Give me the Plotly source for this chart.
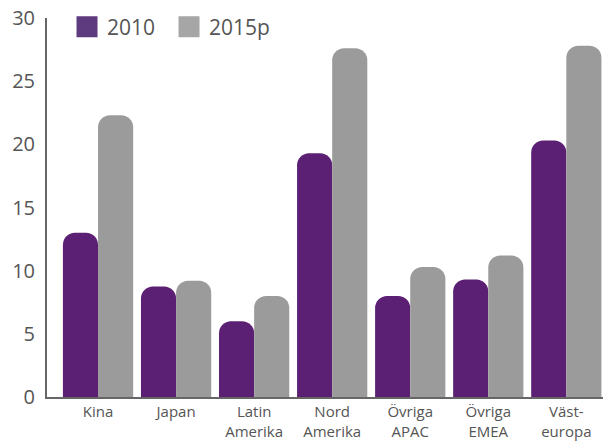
import plotly.graph_objects as go

categories = ["Kina", "Japan", "Latin<br>Amerika", "Nord<br>Amerika", "Övriga<br>APAC", "Övriga<br>EMEA", "Väst-<br>europa"]
values_2010 = [13.0, 8.75, 6.0, 19.3, 8.0, 9.3, 20.3]
values_2015p = [22.3, 9.2, 8.0, 27.6, 10.3, 11.2, 27.8]
series_names = ["2010", "2015p"]
colors = ["#5B1F73", "#9B9B9B"]
legend_colors = ["#5E3A7E", "#A6A6A6"]
y_ticks = [0, 5, 10, 15, 20, 25, 30]

fig = go.Figure()
for name, vals, col in zip(series_names, [values_2010, values_2015p], colors):
    fig.add_trace(go.Bar(x=categories, y=vals, name=name, marker=dict(color=col, line=dict(width=0)),
                         showlegend=False, hoverinfo="x+y"))
for name, col in zip(series_names, legend_colors):
    fig.add_trace(go.Scatter(x=[None], y=[None], mode="markers", name=name,
                             marker=dict(symbol="square", size=16, color=col,
                                         line=dict(color=col, width=5))))

font_family = "Open Sans, Noto Sans, sans-serif"
fig.update_layout(
    width=603, height=443,
    margin=dict(l=47, r=0, t=18, b=46),
    plot_bgcolor="white", paper_bgcolor="white",
    barmode="group", bargap=0.1, bargroupgap=0.0, barcornerradius=12,
    font=dict(family=font_family, color="#555555"),
    legend=dict(orientation="h", x=0.036, y=0.976, xanchor="left", yanchor="middle",
                font=dict(size=21, color="#555555"), bgcolor="rgba(0,0,0,0)",
                itemwidth=30, entrywidth=57, tracegroupgap=0, traceorder="normal"),
    xaxis=dict(type="category", range=[-0.654, 6.47], showgrid=False, showline=True,
               linecolor="#666666", linewidth=2, ticks="", tickfont=dict(size=15, color="#555555"),
               fixedrange=True),
    yaxis=dict(range=[0, 30], tickvals=y_ticks, showgrid=False, showline=True,
               linecolor="#666666", linewidth=2, ticks="", tickfont=dict(size=20, color="#555555"),
               ticklabelstandoff=6, zeroline=False, fixedrange=True),
)

fig.write_html("out.html")
